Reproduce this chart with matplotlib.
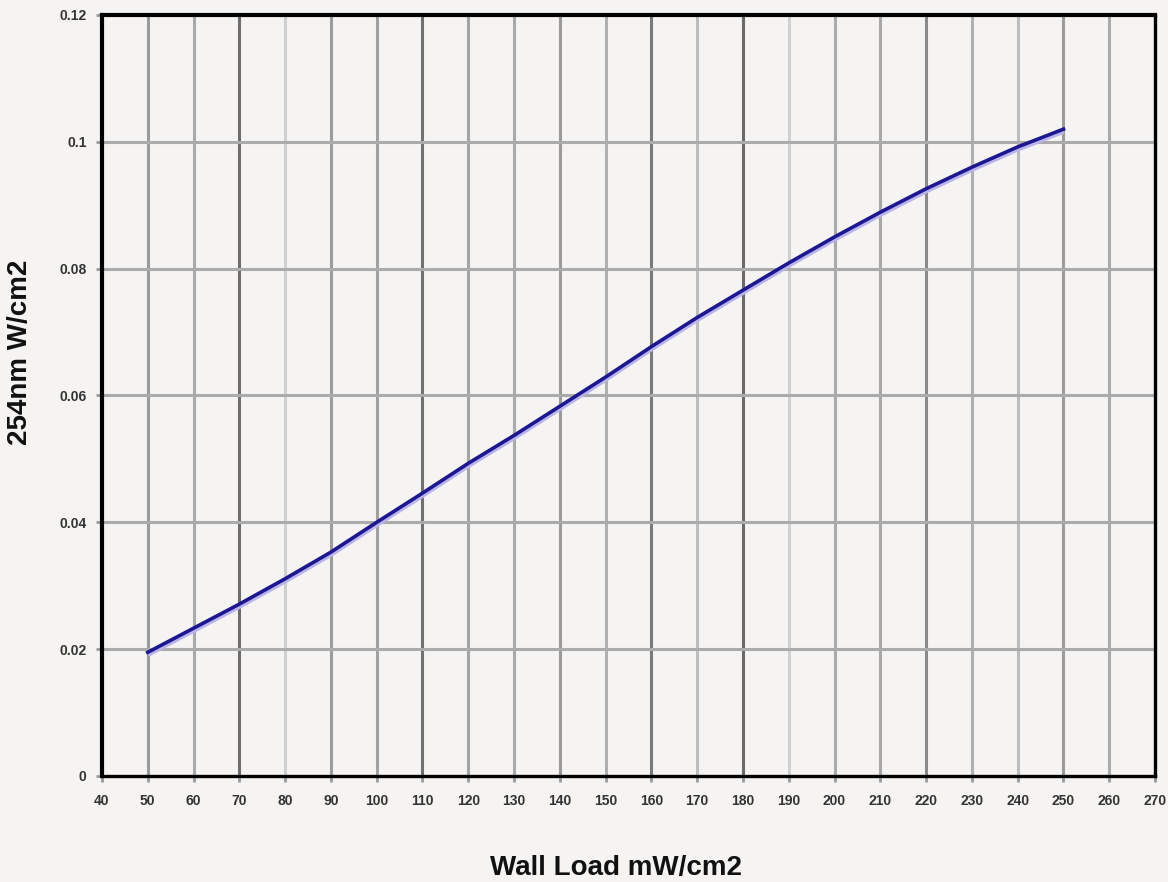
import matplotlib
matplotlib.use("Agg")
from matplotlib import pyplot as plt

# data
wall_load = [50, 60, 70, 80, 90, 100, 110, 120, 130, 140, 150,
             160, 170, 180, 190, 200, 210, 220, 230, 240, 250]
uv_254 = [0.0195, 0.0233, 0.0271, 0.0311, 0.0353, 0.0400, 0.0446,
          0.0493, 0.0537, 0.0583, 0.0629, 0.0677, 0.0723, 0.0766,
          0.0809, 0.0850, 0.0889, 0.0926, 0.0960, 0.0992, 0.1020]

x_ticks = list(range(40, 280, 10))
y_ticks = [0, 0.02, 0.04, 0.06, 0.08, 0.1, 0.12]
y_tick_labels = ["0", "0.02", "0.04", "0.06", "0.08", "0.1", "0.12"]

# the scanned grid has uneven greys, one per vertical line (50..260)
vgrid_colors = ["#9a9a9a", "#aaaaaa", "#6e6e6e", "#cfcfcf", "#9c9c9c",
                "#a0a0a0", "#707070", "#a4a4a4", "#aaaaaa", "#9a9a9a",
                "#b0b0b0", "#7a7a7a", "#bdbdbd", "#6a6a6a", "#d0d0d0",
                "#ababab", "#a8a8a8", "#8a8a8a", "#b0b0b0", "#bcbcbc",
                "#9c9c9c", "#ababab"]

bg = "#f5f4f2"
plt.rcParams['font.family'] = ['Liberation Sans', 'DejaVu Sans']

fig = plt.figure(figsize=(11.68, 8.82), dpi=100, facecolor=bg)
ax = fig.add_axes([0.0873, 0.1202, 0.9016, 0.8628])
ax.set_facecolor(bg)

for xv, col in zip(x_ticks[1:-1], vgrid_colors):
    ax.axvline(xv, color=col, lw=2.2, zorder=1)
for yv in y_ticks[1:-1]:
    ax.axhline(yv, color="#ababab", lw=2.2, zorder=1)

# lavender halo under the curve, then the navy line
ax.plot(wall_load, [v - 0.0003 for v in uv_254], color="#b9b4ec", lw=4, zorder=3,
        solid_capstyle="butt")
ax.plot(wall_load, uv_254, color="#1d1890", lw=2.6, zorder=4)

ax.set_xlim(40, 270)
ax.set_ylim(0, 0.12)
ax.set_xticks(x_ticks)
ax.set_xticklabels([str(t) for t in x_ticks])
ax.set_yticks(y_ticks)
ax.set_yticklabels(y_tick_labels)
ax.tick_params(axis="both", labelsize=10, colors="#9a9a9a", length=4, width=2,
               labelcolor="#333333")
ax.tick_params(axis="x", pad=9)
ax.tick_params(axis="y", pad=7)
for lab in ax.get_xticklabels() + ax.get_yticklabels():
    lab.set_fontweight("bold")

for side in ["top", "left"]:
    ax.spines[side].set_linewidth(3)
for side in ["bottom", "right"]:
    ax.spines[side].set_linewidth(2.4)
for sp in ax.spines.values():
    sp.set_color("black")
    sp.set_zorder(5)

ax.set_xlabel("Wall Load mW/cm2", fontsize=20, fontweight="bold", color="#111111")
ax.xaxis.set_label_coords(0.488, -0.104)
ax.set_ylabel("254nm W/cm2", fontsize=20, fontweight="bold", color="#111111")
ax.yaxis.set_label_coords(-0.0655, 0.557)

fig.savefig("out.png", dpi=100, facecolor=bg)
